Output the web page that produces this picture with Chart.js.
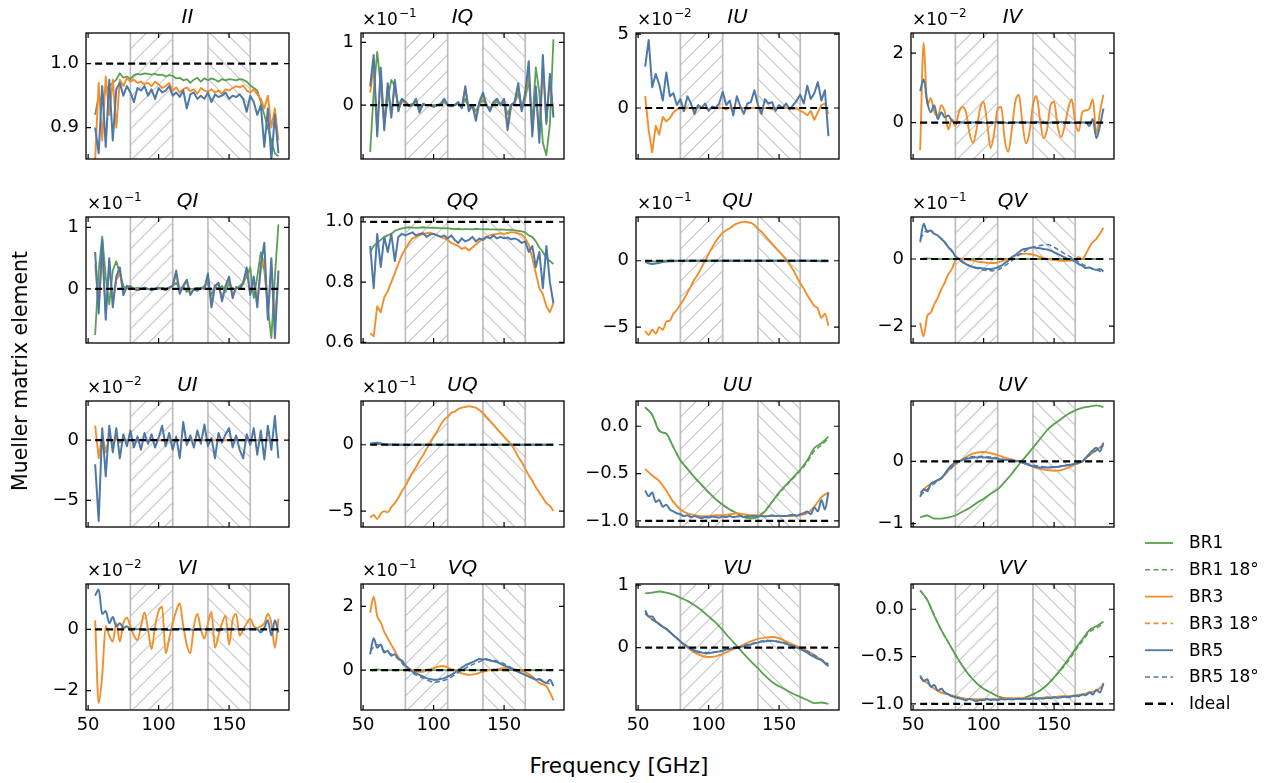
<!DOCTYPE html>
<html><head><meta charset="utf-8">
<script src="https://cdn.jsdelivr.net/npm/chart.js@4.4.0/dist/chart.umd.min.js"></script>
<style>
html,body{margin:0;padding:0;background:#fff;}
#fig{position:relative;width:1288px;height:783px;overflow:hidden;font-family:'DejaVu Sans',sans-serif;background:#fff;}
#fig canvas{position:absolute;}
.lab{position:absolute;color:#000;white-space:nowrap;font-family:'DejaVu Sans',sans-serif;}
</style></head><body><div id="fig"></div>
<script>
// ---------------- DATA ----------------
const freqFine = [55,57.5,60,62.5,65,67.5,70,72.5,75,77.5,
  80,82.5,85,87.5,90,92.5,95,97.5,100,102.5,
  105,107.5,110,112.5,115,117.5,120,122.5,125,127.5,
  130,132.5,135,137.5,140,142.5,145,147.5,150,152.5,
  155,157.5,160,162.5,165,167.5,170,172.5,175,177.5,
  180,182.5,185];
const freqCoarse = [55,60,65,70,75,80,85,90,95,100,105,110,115,120,125,130,135,140,145,150,155,160,165,170,175,180,185];
const freqIdeal = [55,185];
const hatchBands = [[80,110],[135,165]];
const xTickValues = [50,100,150];

const panelNames = ['II','IQ','IU','IV','QI','QQ','QU','QV','UI','UQ','UU','UV','VI','VQ','VU','VV'];
const yMin = [0.851,-0.86,-3.45,-1.05,-0.88,0.598,-6.2,-2.5,-7.2,-6.2,-1.065,-1.055,-2.63,-1.25,-1.0,-1.065];
const yMax = [1.048,1.15,5.07,2.58,1.17,1.016,3.3,1.25,3.25,3.3,0.267,0.97,1.48,2.7,1.02,0.267];
const yTickValues = [[0.9,1.0],[0,1],[0,5],[0,2],[0,1],[0.6,0.8,1.0],[-5,0],[-2,0],[-5,0],[-5,0],[-1,-0.5,0],[-1,0],[-2,0],[0,2],[0,1],[-1,-0.5,0]];
const yTickLabels = [['0.9','1.0'],['0','1'],['0','5'],['0','2'],['0','1'],['0.6','0.8','1.0'],['\u22125','0'],['\u22122','0'],['\u22125','0'],['\u22125','0'],['\u22121.0','\u22120.5','0.0'],['\u22121','0'],['\u22122','0'],['0','2'],['0','1'],['\u22121.0','\u22120.5','0.0']];
const yExponent = [null,-1,-2,-2,-1,null,-1,-1,-2,-1,null,null,-2,-1,null,null];
const idealValues = [1,0,0,0,0,1,0,0,0,0,-1,0,0,0,0,-1];

// II
const II_BR1 = [0.92,0.95,0.94,0.96,0.965,0.97,0.975,0.985,0.978,0.98,
  0.976,0.982,0.984,0.983,0.985,0.984,0.983,0.984,0.982,0.983,
  0.98,0.982,0.981,0.977,0.978,0.974,0.976,0.97,0.975,0.978,
  0.972,0.977,0.974,0.977,0.975,0.972,0.976,0.974,0.976,0.975,
  0.974,0.976,0.975,0.972,0.966,0.962,0.958,0.94,0.92,0.9,
  0.88,0.86,0.855];
const II_BR3 = [0.85,0.97,0.88,0.98,0.92,0.975,0.9,0.975,0.965,0.978,
  0.972,0.975,0.97,0.972,0.968,0.97,0.965,0.972,0.968,0.962,
  0.965,0.97,0.958,0.963,0.955,0.96,0.963,0.957,0.96,0.953,
  0.962,0.958,0.956,0.96,0.955,0.958,0.953,0.96,0.958,0.962,
  0.965,0.963,0.966,0.958,0.955,0.96,0.952,0.945,0.93,0.95,
  0.9,0.93,0.88];
const II_BR5 = [0.9,0.86,0.965,0.87,0.975,0.88,0.96,0.97,0.95,0.965,
  0.955,0.94,0.962,0.958,0.965,0.95,0.96,0.945,0.962,0.955,
  0.958,0.965,0.95,0.955,0.948,0.958,0.93,0.952,0.955,0.945,
  0.95,0.945,0.955,0.94,0.952,0.948,0.95,0.955,0.945,0.95,
  0.948,0.952,0.945,0.925,0.95,0.94,0.92,0.935,0.87,0.93,
  0.85,0.92,0.86];
// IQ (x10^-1)
const IQ_BR1 = [-0.75,0.2,0.85,0.3,-0.3,0.1,0.4,0.3,0.0,0.1,
  0.05,0.0,0.02,0.05,-0.05,0.0,0.0,0.0,0.0,0.0,
  0.0,0.05,0.0,0.0,0.0,0.02,-0.02,0.1,-0.05,0.0,
  -0.1,0.02,0.08,0.0,-0.05,0.02,0.05,0.0,0.05,-0.15,
  0.0,0.02,0.2,-0.05,0.1,0.4,-0.3,0.6,0.2,-0.6,
  -0.8,-0.3,1.05];
const IQ_BR3 = [0.2,0.6,-0.4,0.5,-0.3,0.3,-0.15,0.3,-0.05,0.05,
  0.03,-0.02,0.0,0.08,-0.1,0.02,0.0,0.0,-0.02,0.0,
  0.02,0.08,0.0,-0.02,0.0,0.04,-0.04,0.25,-0.08,0.0,
  -0.2,0.04,0.15,0.0,-0.08,0.04,0.08,0.0,0.08,-0.3,
  0.0,0.04,0.3,-0.08,0.15,0.5,-0.4,0.25,-0.5,0.6,
  -0.25,0.4,-0.15];
const IQ_BR5 = [0.3,0.8,-0.5,0.6,-0.4,0.35,-0.2,0.4,-0.1,0.1,
  0.05,-0.02,0.0,0.1,-0.12,0.02,0.0,0.0,-0.03,0.0,
  0.02,0.1,0.0,-0.02,0.0,0.05,-0.05,0.3,-0.1,0.0,
  -0.25,0.05,0.2,0.0,-0.1,0.05,0.1,0.0,0.1,-0.4,
  0.0,0.05,0.35,-0.1,0.2,0.7,-0.5,0.3,-0.6,0.8,
  -0.3,0.5,-0.2];
// IU (x10^-2)
const IU_BR3 = [0.8,-1.5,-3.0,-1.2,-1.8,-0.6,-0.9,-0.7,-0.3,-0.1,
  0.0,-0.1,0.0,0.0,-0.1,0.0,0.0,0.0,-0.1,0.0,
  0.0,0.0,0.0,-0.1,0.0,0.0,0.0,0.0,0.0,-0.1,
  0.0,0.0,0.0,-0.1,0.0,0.0,-0.1,0.0,0.0,0.0,
  0.0,0.0,-0.1,0.0,-0.2,-0.3,-0.5,-0.2,-0.8,-0.3,
  0.2,0.3,-0.4];
const IU_BR5 = [2.8,4.6,1.4,2.3,1.6,0.5,2.4,0.8,1.0,0.2,
  0.6,-0.2,0.8,0.3,-0.4,0.2,0.0,0.3,-0.2,0.1,
  0.0,0.3,1.1,0.2,0.5,-0.5,0.8,0.1,-0.4,0.3,
  0.4,1.2,0.2,-0.4,0.6,0.3,0.4,-0.2,0.2,0.0,
  0.3,-0.1,0.2,0.5,0.9,0.3,1.5,0.6,1.0,1.75,
  0.5,1.2,-1.9];
// IV (x10^-2)
const IV_BR3 = [-0.8,2.3,0.5,0.7,0.3,0.2,0.5,0.3,-0.2,0.1,
  -0.1,0.3,0.45,0.3,-0.3,-0.59,-0.2,0.4,0.6,0.0,
  -0.74,-0.3,0.4,0.45,-0.5,-0.84,-0.2,0.6,0.8,0.0,
  -0.6,-0.3,0.5,0.77,0.1,-0.45,-0.2,0.5,0.6,-0.1,
  -0.42,-0.1,0.4,0.67,0.0,-0.25,0.3,0.35,0.4,0.67,
  -0.33,0.3,0.8];
const IV_BR5 = [0.9,1.25,0.6,0.3,0.5,0.1,0.3,0.15,0.2,0.05,
  0.0,0.02,0.0,-0.02,0.0,0.0,0.02,0.0,0.0,-0.02,
  0.0,0.0,0.02,0.0,0.0,-0.02,0.0,0.0,0.0,0.02,
  0.0,0.0,0.0,0.02,0.0,0.0,-0.02,0.0,0.0,0.0,
  0.02,0.0,0.0,0.0,-0.02,0.0,0.0,0.0,-0.1,0.1,
  -0.45,-0.1,0.4];
// QI (x10^-1)
const QI_BR1 = [-0.75,0.3,0.85,0.2,-0.25,0.3,0.45,0.25,0.05,0.0,
  0.05,0.0,0.02,0.0,0.0,0.0,0.0,0.0,0.0,0.02,
  0.0,0.02,0.05,0.1,0.0,0.05,-0.05,0.0,0.0,0.02,
  0.0,0.05,0.1,-0.1,0.05,0.0,0.05,-0.05,0.1,0.0,
  0.0,0.05,0.1,0.2,0.35,-0.15,0.2,0.6,0.3,-0.3,
  -0.8,0.2,1.05];
const QI_BR3 = [0.4,-0.3,0.6,-0.4,0.4,-0.2,0.15,0.25,-0.05,0.03,
  0.02,0.0,-0.02,0.0,0.02,0.0,-0.02,0.0,0.02,0.0,
  -0.02,0.02,0.04,0.25,-0.06,0.04,0.12,-0.08,0.0,-0.02,
  0.02,0.0,0.2,-0.25,0.04,0.08,-0.15,0.04,0.15,-0.1,
  0.02,0.0,0.08,0.3,-0.08,0.15,-0.2,0.3,0.5,-0.4,
  0.35,-0.5,0.2];
const QI_BR5 = [0.6,-0.4,0.8,-0.5,0.5,-0.3,0.2,0.35,-0.1,0.05,
  0.03,0.0,-0.02,0.0,0.02,0.0,-0.02,0.0,0.02,0.0,
  -0.02,0.02,0.05,0.3,-0.08,0.05,0.15,-0.1,0.0,-0.03,
  0.02,0.0,0.25,-0.3,0.05,0.1,-0.2,0.05,0.2,-0.15,
  0.03,0.0,0.1,0.35,-0.1,0.2,-0.3,0.4,0.75,-0.5,
  0.5,-0.8,0.3];
// QQ
const QQ_BR1 = [0.9,0.92,0.93,0.94,0.95,0.955,0.96,0.97,0.975,0.978,
  0.98,0.982,0.981,0.98,0.981,0.982,0.981,0.98,0.981,0.98,
  0.979,0.978,0.979,0.977,0.976,0.977,0.975,0.976,0.976,0.975,
  0.977,0.976,0.975,0.976,0.975,0.975,0.974,0.975,0.974,0.973,
  0.974,0.972,0.97,0.968,0.965,0.955,0.95,0.935,0.915,0.9,
  0.88,0.87,0.86];
const QQ_BR3 = [0.63,0.62,0.72,0.7,0.75,0.77,0.8,0.83,0.86,0.89,
  0.91,0.93,0.945,0.95,0.955,0.96,0.962,0.964,0.96,0.955,
  0.95,0.945,0.94,0.93,0.925,0.92,0.91,0.915,0.905,0.915,
  0.925,0.935,0.945,0.95,0.955,0.958,0.96,0.962,0.96,0.963,
  0.966,0.964,0.962,0.958,0.945,0.925,0.88,0.83,0.78,0.76,
  0.72,0.7,0.73];
const QQ_BR5 = [0.92,0.78,0.96,0.85,0.95,0.9,0.96,0.87,0.95,0.96,
  0.955,0.96,0.965,0.955,0.96,0.962,0.95,0.958,0.96,0.955,
  0.95,0.955,0.945,0.955,0.94,0.93,0.945,0.935,0.94,0.95,
  0.935,0.945,0.94,0.95,0.945,0.955,0.945,0.95,0.945,0.948,
  0.942,0.945,0.94,0.93,0.935,0.9,0.92,0.85,0.9,0.78,
  0.92,0.8,0.73];
// QU (x10^-1)
const QU_BR1 = [0.0,-0.05,-0.03,0.0,0.0,0.0,0.0,0.0,0.0,0.0,
  0.0,0.0,0.0,0.0,0.0,0.0,0.0,0.0,0.0,0.0,
  0.0,0.0,0.0,0.0,0.0,0.0,0.0];
const QU_BR3 = [-5.3,-5.6,-5.2,-5.5,-5.0,-5.2,-4.6,-4.5,-4.0,-3.7,
  -3.3,-2.9,-2.4,-1.9,-1.4,-1.0,-0.5,0.0,0.5,1.0,
  1.45,1.8,2.1,2.3,2.45,2.65,2.8,2.88,2.95,2.9,
  2.85,2.7,2.4,2.2,1.9,1.6,1.3,1.0,0.7,0.4,
  0.1,-0.3,-0.7,-1.2,-1.7,-2.1,-2.6,-3.0,-3.4,-3.6,
  -4.3,-4.0,-4.9];
const QU_BR5 = [-0.1,-0.25,-0.15,-0.05,-0.03,-0.02,0.0,0.0,0.0,0.0,
  0.0,0.0,0.0,0.0,0.0,0.0,0.0,0.0,0.0,0.0,
  0.0,0.0,0.0,0.0,-0.02,-0.03,-0.03];
// QV (x10^-1)
const QV_BR1 = [0.0,0.02,0.0,0.0,0.0,0.0,0.0,0.0,0.0,0.0,
  0.0,0.0,0.0,0.0,0.0,0.0,0.0,0.0,0.0,0.0,
  0.0,0.0,0.0,0.0,0.0,0.0,0.0];
const QV_BR3 = [-1.9,-2.3,-1.7,-1.6,-1.35,-1.15,-0.9,-0.7,-0.45,-0.3,
  -0.05,0.02,0.0,-0.02,-0.03,-0.05,-0.07,-0.09,-0.1,-0.11,
  -0.12,-0.12,-0.1,-0.07,-0.03,0.0,0.05,0.1,0.13,0.15,
  0.16,0.15,0.13,0.1,0.06,0.03,0.0,-0.02,-0.03,-0.04,
  -0.05,-0.05,-0.05,-0.03,0.0,0.05,0.0,0.15,0.35,0.5,
  0.6,0.75,0.93];
const QV_BR5 = [0.5,1.05,0.8,0.85,0.75,0.7,0.6,0.5,0.35,0.25,
  0.08,0.0,-0.08,-0.15,-0.2,-0.24,-0.26,-0.27,-0.28,-0.3,
  -0.3,-0.28,-0.25,-0.2,-0.12,-0.05,0.05,0.12,0.2,0.28,
  0.3,0.33,0.35,0.33,0.32,0.3,0.28,0.25,0.2,0.15,
  0.1,0.05,0.0,-0.03,-0.08,-0.15,-0.2,-0.27,-0.25,-0.3,
  -0.32,-0.3,-0.37];
const QV_BR5_18 = [0.6,0.85,0.75,0.6,0.35,0.1,-0.1,-0.2,-0.28,-0.33,
  -0.35,-0.32,-0.2,-0.05,0.12,0.25,0.35,0.4,0.43,0.35,
  0.22,0.1,-0.02,-0.15,-0.25,-0.32,-0.4];
// UI (x10^-2)
const UI_BR3 = [1.2,-1.5,0.5,-1.0,0.3,-0.3,0.2,-0.2,0.1,0.0,
  0.0,0.0,0.0,0.0,0.0,0.0,0.0,0.0,0.0,0.0,
  0.0,0.0,0.0,0.0,0.0,0.0,0.0,0.0,0.0,0.0,
  0.0,0.0,0.0,0.0,0.0,0.0,0.0,0.0,0.0,0.0,
  0.0,0.0,0.0,0.0,0.0,0.0,0.0,0.0,0.0,0.0,
  0.0,0.0,0.0];
const UI_BR5 = [-2.0,-6.7,1.0,-3.0,1.2,-1.0,1.0,-1.5,0.5,-0.5,
  0.8,-0.6,0.3,-0.8,0.6,-0.3,0.5,-0.6,0.2,1.2,
  -0.5,0.6,-0.8,0.3,-1.5,1.5,-0.4,0.4,-0.6,0.8,
  -0.3,1.3,-0.5,0.2,-1.5,0.6,-0.2,0.5,1.0,-0.6,
  0.4,-0.8,-1.5,0.5,-0.4,1.0,-1.2,0.8,-1.6,1.2,
  -0.8,2.0,-1.5];
// UQ (x10^-1)
const UQ_BR1 = [0.05,0.05,0.02,0.0,0.0,0.0,0.0,0.0,0.0,0.0,
  0.0,0.0,0.0,0.0,0.0,0.0,0.0,0.0,0.0,0.0,
  0.0,0.0,0.0,0.0,0.0,0.0,0.0];
const UQ_BR3 = [-5.5,-5.3,-5.6,-5.2,-5.0,-5.1,-4.7,-4.4,-4.0,-3.5,
  -3.1,-2.6,-2.1,-1.7,-1.2,-0.8,-0.3,0.1,0.6,1.0,
  1.5,1.9,2.1,2.4,2.5,2.7,2.8,2.85,2.9,2.85,
  2.8,2.6,2.4,2.1,1.8,1.5,1.2,0.9,0.6,0.3,
  0.0,-0.4,-0.9,-1.3,-1.8,-2.3,-2.7,-3.2,-3.6,-4.0,
  -4.4,-4.6,-5.0];
const UQ_BR5 = [0.1,0.15,0.05,0.02,0.0,0.0,0.0,0.0,0.0,0.0,
  0.0,0.0,0.0,0.0,0.0,0.0,0.0,0.0,0.0,0.0,
  0.0,0.0,0.0,0.0,0.0,0.0,0.0];
// UU
const UU_BR1 = [0.2,0.12,-0.05,-0.08,-0.22,-0.36,-0.45,-0.54,-0.62,-0.7,
  -0.77,-0.83,-0.88,-0.92,-0.96,-0.975,-0.96,-0.9,-0.8,-0.7,
  -0.62,-0.54,-0.46,-0.36,-0.23,-0.18,-0.11];
const UU_BR1_18 = [0.2,0.12,-0.04,-0.08,-0.22,-0.36,-0.45,-0.54,-0.62,-0.7,
  -0.77,-0.83,-0.88,-0.92,-0.96,-0.97,-0.95,-0.89,-0.8,-0.71,
  -0.63,-0.55,-0.47,-0.38,-0.26,-0.2,-0.13];
const UU_BR3 = [-0.45,-0.52,-0.58,-0.68,-0.8,-0.88,-0.92,-0.94,-0.95,-0.95,
  -0.94,-0.94,-0.93,-0.92,-0.93,-0.94,-0.94,-0.95,-0.95,-0.95,
  -0.95,-0.95,-0.94,-0.92,-0.85,-0.75,-0.7];
const UU_BR5 = [-0.68,-0.74,-0.7,-0.8,-0.78,-0.85,-0.83,-0.88,-0.9,-0.92,
  -0.93,-0.95,-0.94,-0.96,-0.95,-0.96,-0.97,-0.96,-0.965,-0.955,
  -0.96,-0.965,-0.955,-0.96,-0.95,-0.96,-0.955,-0.95,-0.96,-0.95,
  -0.955,-0.945,-0.955,-0.95,-0.955,-0.95,-0.94,-0.95,-0.945,-0.95,
  -0.95,-0.94,-0.935,-0.945,-0.93,-0.92,-0.9,-0.93,-0.86,-0.9,
  -0.78,-0.88,-0.7];
// UV
const UV_BR1 = [-0.9,-0.87,-0.92,-0.92,-0.9,-0.87,-0.81,-0.75,-0.67,-0.6,
  -0.52,-0.45,-0.33,-0.2,-0.05,0.08,0.22,0.36,0.5,0.6,
  0.68,0.76,0.82,0.86,0.88,0.9,0.87];
const UV_BR3 = [-0.5,-0.4,-0.33,-0.27,-0.15,-0.05,0.03,0.1,0.14,0.15,
  0.13,0.1,0.06,0.03,0.0,-0.04,-0.09,-0.12,-0.14,-0.15,
  -0.14,-0.1,-0.05,0.0,0.1,0.18,0.27];
const UV_BR5 = [-0.57,-0.45,-0.48,-0.36,-0.33,-0.3,-0.27,-0.2,-0.12,-0.06,
  -0.02,0.0,0.02,0.04,0.05,0.06,0.06,0.07,0.06,0.06,
  0.05,0.05,0.04,0.03,0.02,0.02,0.01,0.0,0.0,-0.02,
  -0.04,-0.06,-0.08,-0.09,-0.1,-0.1,-0.1,-0.1,-0.09,-0.09,
  -0.08,-0.07,-0.06,-0.05,-0.04,-0.02,0.0,0.06,0.12,0.18,
  0.22,0.16,0.3];
const UV_BR5_18 = [-0.55,-0.45,-0.36,-0.27,-0.15,-0.04,0.03,0.07,0.08,0.08,
  0.07,0.05,0.03,0.02,0.0,-0.03,-0.06,-0.08,-0.09,-0.09,
  -0.08,-0.06,-0.03,0.0,0.1,0.18,0.25];
// VI (x10^-2)
const VI_BR3 = [0.3,-2.4,-1.5,0.1,-0.2,-0.4,0.2,-0.4,0.2,0.38,
  0.1,-0.2,-0.35,0.1,0.55,0.0,-0.65,0.1,0.6,0.74,
  -0.78,-0.3,0.2,0.6,0.85,0.1,-0.5,-0.78,0.1,0.5,
  0.0,-0.3,0.2,0.57,-0.6,-0.2,0.2,0.45,-0.5,0.3,
  0.5,-0.2,0.0,0.2,0.35,0.1,0.05,0.1,0.2,0.5,
  0.2,-0.6,0.35];
const VI_BR5 = [1.1,1.3,0.5,0.6,0.2,0.4,0.1,0.2,0.05,0.1,
  0.0,0.02,0.0,0.0,-0.02,0.0,0.0,0.02,0.0,0.0,
  0.0,-0.02,0.0,0.0,0.02,0.0,0.0,0.0,-0.02,0.0,
  0.0,0.0,0.02,0.0,0.0,-0.05,0.0,0.0,0.02,0.0,
  0.0,0.0,0.0,0.0,0.02,0.0,0.0,-0.1,0.05,0.3,
  -0.2,0.3,-0.1];
// VQ (x10^-1)
const VQ_BR1 = [0.0,0.02,0.0,0.0,0.0,0.0,0.0,0.0,0.0,0.0,
  0.0,0.0,0.0,0.0,0.0,0.0,0.0,0.0,0.0,0.0,
  0.0,0.0,0.0,0.0,0.0,0.0,0.0];
const VQ_BR3 = [1.8,2.3,1.7,1.5,1.2,1.0,0.8,0.6,0.4,0.25,
  0.12,0.05,0.0,-0.05,-0.05,-0.05,0.0,0.03,0.06,0.1,
  0.12,0.12,0.08,0.03,0.0,-0.05,-0.1,-0.13,-0.15,-0.14,
  -0.12,-0.08,-0.05,-0.02,0.0,0.02,0.03,0.05,0.06,0.06,
  0.05,0.03,0.0,-0.03,-0.06,-0.12,-0.2,-0.3,-0.4,-0.45,
  -0.5,-0.7,-0.95];
const VQ_BR5 = [0.5,1.0,0.7,0.8,0.55,0.6,0.45,0.5,0.35,0.3,
  0.15,0.05,-0.05,-0.1,-0.15,-0.2,-0.25,-0.28,-0.3,-0.3,
  -0.28,-0.25,-0.2,-0.15,-0.08,0.0,0.08,0.15,0.2,0.25,
  0.3,0.35,0.33,0.35,0.3,0.28,0.25,0.2,0.15,0.1,
  0.05,0.0,-0.05,-0.1,-0.15,-0.2,-0.25,-0.3,-0.28,-0.35,
  -0.4,-0.3,-0.5];
const VQ_BR5_18 = [0.6,0.8,0.6,0.5,0.35,0.1,-0.1,-0.2,-0.3,-0.38,
  -0.35,-0.28,-0.15,0.0,0.12,0.22,0.3,0.32,0.28,0.2,
  0.08,-0.05,-0.15,-0.25,-0.3,-0.4,-0.45];
// VU
const VU_BR1 = [0.87,0.88,0.9,0.88,0.85,0.8,0.75,0.68,0.6,0.5,
  0.4,0.28,0.15,0.03,-0.1,-0.22,-0.33,-0.45,-0.55,-0.62,
  -0.68,-0.74,-0.79,-0.84,-0.89,-0.88,-0.9];
const VU_BR3 = [0.55,0.45,0.38,0.3,0.2,0.1,0.0,-0.08,-0.13,-0.15,
  -0.14,-0.1,-0.05,0.0,0.05,0.1,0.14,0.16,0.17,0.15,
  0.1,0.05,0.0,-0.05,-0.12,-0.2,-0.28];
const VU_BR5 = [0.6,0.5,0.5,0.42,0.38,0.33,0.3,0.25,0.2,0.15,
  0.1,0.05,0.02,-0.02,-0.05,-0.07,-0.08,-0.09,-0.09,-0.08,
  -0.07,-0.06,-0.05,-0.03,-0.02,-0.01,0.0,0.01,0.02,0.04,
  0.05,0.07,0.08,0.1,0.1,0.11,0.11,0.1,0.09,0.08,
  0.06,0.04,0.02,0.0,-0.02,-0.05,-0.08,-0.12,-0.15,-0.18,
  -0.2,-0.25,-0.3];
const VU_BR5_18 = [0.55,0.45,0.37,0.3,0.2,0.1,0.02,-0.04,-0.07,-0.08,
  -0.07,-0.05,-0.02,0.0,0.03,0.06,0.09,0.11,0.11,0.1,
  0.07,0.03,-0.01,-0.06,-0.12,-0.19,-0.26];
// VV
const VV_BR1 = [0.2,0.1,-0.07,-0.22,-0.35,-0.48,-0.6,-0.7,-0.78,-0.84,
  -0.88,-0.92,-0.94,-0.95,-0.95,-0.93,-0.9,-0.86,-0.8,-0.72,
  -0.63,-0.53,-0.42,-0.32,-0.22,-0.18,-0.13];
const VV_BR1_18 = [0.2,0.1,-0.06,-0.22,-0.35,-0.48,-0.6,-0.7,-0.78,-0.84,
  -0.88,-0.92,-0.94,-0.95,-0.95,-0.93,-0.9,-0.86,-0.8,-0.72,
  -0.64,-0.55,-0.44,-0.34,-0.24,-0.2,-0.15];
const VV_BR3 = [-0.72,-0.78,-0.84,-0.88,-0.9,-0.92,-0.94,-0.95,-0.95,-0.95,
  -0.95,-0.95,-0.94,-0.94,-0.94,-0.94,-0.94,-0.94,-0.93,-0.93,
  -0.92,-0.92,-0.91,-0.9,-0.88,-0.86,-0.8];
const VV_BR5 = [-0.7,-0.76,-0.74,-0.82,-0.8,-0.86,-0.84,-0.88,-0.9,-0.92,
  -0.93,-0.94,-0.95,-0.96,-0.95,-0.96,-0.97,-0.96,-0.96,-0.95,
  -0.96,-0.955,-0.96,-0.95,-0.955,-0.95,-0.955,-0.95,-0.945,-0.95,
  -0.945,-0.95,-0.94,-0.945,-0.94,-0.945,-0.935,-0.94,-0.93,-0.935,
  -0.93,-0.925,-0.93,-0.92,-0.915,-0.92,-0.9,-0.91,-0.88,-0.9,
  -0.85,-0.88,-0.78];

const legendKeys = ['BR1','BR1_18','BR3','BR3_18','BR5','BR5_18','Ideal'];
const legendLabels = ['BR1','BR1 18\u00b0','BR3','BR3 18\u00b0','BR5','BR5 18\u00b0','Ideal'];

const series = {
  II: [['BR1',freqFine,II_BR1],['BR3',freqFine,II_BR3],['BR5',freqFine,II_BR5]],
  IQ: [['BR1',freqFine,IQ_BR1],['BR3',freqFine,IQ_BR3],['BR5',freqFine,IQ_BR5]],
  IU: [['BR3',freqFine,IU_BR3],['BR5',freqFine,IU_BR5]],
  IV: [['BR3',freqFine,IV_BR3],['BR5',freqFine,IV_BR5]],
  QI: [['BR1',freqFine,QI_BR1],['BR3',freqFine,QI_BR3],['BR5',freqFine,QI_BR5]],
  QQ: [['BR1',freqFine,QQ_BR1],['BR3',freqFine,QQ_BR3],['BR5',freqFine,QQ_BR5]],
  QU: [['BR1',freqCoarse,QU_BR1],['BR3',freqFine,QU_BR3],['BR5',freqCoarse,QU_BR5]],
  QV: [['BR1',freqCoarse,QV_BR1],['BR3',freqFine,QV_BR3],['BR5',freqFine,QV_BR5],['BR5_18',freqCoarse,QV_BR5_18]],
  UI: [['BR3',freqFine,UI_BR3],['BR5',freqFine,UI_BR5]],
  UQ: [['BR1',freqCoarse,UQ_BR1],['BR3',freqFine,UQ_BR3],['BR5',freqCoarse,UQ_BR5]],
  UU: [['BR1',freqCoarse,UU_BR1],['BR1_18',freqCoarse,UU_BR1_18],['BR3',freqCoarse,UU_BR3],['BR5',freqFine,UU_BR5]],
  UV: [['BR1',freqCoarse,UV_BR1],['BR3',freqCoarse,UV_BR3],['BR5',freqFine,UV_BR5],['BR5_18',freqCoarse,UV_BR5_18]],
  VI: [['BR3',freqFine,VI_BR3],['BR5',freqFine,VI_BR5]],
  VQ: [['BR1',freqCoarse,VQ_BR1],['BR3',freqFine,VQ_BR3],['BR5',freqFine,VQ_BR5],['BR5_18',freqCoarse,VQ_BR5_18]],
  VU: [['BR1',freqCoarse,VU_BR1],['BR3',freqCoarse,VU_BR3],['BR5',freqFine,VU_BR5],['BR5_18',freqCoarse,VU_BR5_18]],
  VV: [['BR1',freqCoarse,VV_BR1],['BR1_18',freqCoarse,VV_BR1_18],['BR3',freqCoarse,VV_BR3],['BR5',freqFine,VV_BR5]]
};
const smoothPanels = ['IV','VI','QU','UQ','UU','UV','VU','VV','QV','VQ'];

// ---------------- STYLE / LAYOUT ----------------
const FONT = "'DejaVu Sans'";
const GREEN = '#59a14f', ORANGE = '#f28e2b', BLUE = '#4e79a7';
const STYLE = {
  BR1:{color:GREEN, dash:[], order:6, w:1.8},
  BR1_18:{color:GREEN, dash:[5,3], order:5, w:1.5},
  BR3:{color:ORANGE, dash:[], order:4, w:1.9},
  BR3_18:{color:ORANGE, dash:[5,3], order:3, w:1.5},
  BR5:{color:BLUE, dash:[], order:2, w:2.0},
  BR5_18:{color:BLUE, dash:[5,3], order:1, w:1.5},
  Ideal:{color:'#000', dash:[7,4], order:0, w:2.2}
};
const COL_LEFT = [86,361,636,911];
const ROW_TOP = [33,217,401,584];
const AX_W = 203, AX_H = 126;
const PAD_L = 72, PAD_T = 44, PAD_R = 14, PAD_B = 32;

Chart.defaults.font.family = FONT;
Chart.defaults.color = '#000';

function drawHatch(ctx, a, x0, x1, dir){
  const h = a.bottom - a.top, sp = 16;
  ctx.save();
  ctx.beginPath(); ctx.rect(x0, a.top, x1 - x0, h); ctx.clip();
  ctx.strokeStyle = '#c6c6c6'; ctx.lineWidth = 1.1;
  ctx.beginPath();
  for (let s = x0 - h - sp; s < x1 + sp; s += sp){
    if (dir > 0){ ctx.moveTo(s, a.bottom); ctx.lineTo(s + h, a.top); }
    else { ctx.moveTo(s, a.top); ctx.lineTo(s + h, a.bottom); }
  }
  ctx.stroke();
  ctx.restore();
  ctx.save();
  ctx.strokeStyle = '#bdbdbd'; ctx.lineWidth = 1.7;
  ctx.beginPath();
  ctx.moveTo(x0, a.top); ctx.lineTo(x0, a.bottom);
  ctx.moveTo(x1, a.top); ctx.lineTo(x1, a.bottom);
  ctx.stroke();
  ctx.restore();
}

const decor = {
  id:'decor',
  beforeDatasetsDraw(chart){
    const a = chart.chartArea, xs = chart.scales.x, ctx = chart.ctx;
    hatchBands.forEach((b,i)=>drawHatch(ctx, a, xs.getPixelForValue(b[0]), xs.getPixelForValue(b[1]), i === 0 ? 1 : -1));
  },
  afterDraw(chart){
    const o = chart.options.plugins.decor;
    const a = chart.chartArea, xs = chart.scales.x, ys = chart.scales.y, ctx = chart.ctx;
    ctx.save();
    ctx.strokeStyle = '#000'; ctx.lineWidth = 1.3;
    ctx.strokeRect(a.left, a.top, a.right - a.left, a.bottom - a.top);
    ctx.lineWidth = 1.2;
    ctx.beginPath();
    xTickValues.forEach(v=>{
      const p = xs.getPixelForValue(v);
      if (p < a.left - 0.5 || p > a.right + 0.5) return;
      ctx.moveTo(p, a.bottom); ctx.lineTo(p, a.bottom - 5);
      ctx.moveTo(p, a.top); ctx.lineTo(p, a.top + 5);
    });
    o.yTicks.forEach(v=>{
      const p = ys.getPixelForValue(v);
      ctx.moveTo(a.left, p); ctx.lineTo(a.left + 5, p);
      ctx.moveTo(a.right, p); ctx.lineTo(a.right - 5, p);
    });
    ctx.stroke();
    // title
    ctx.fillStyle = '#000';
    ctx.font = 'italic 20px ' + FONT;
    ctx.textAlign = 'center'; ctx.textBaseline = 'alphabetic';
    ctx.fillText(o.title, (a.left + a.right) / 2, a.top - 10);
    // offset text
    if (o.exp !== null){
      ctx.textAlign = 'left';
      ctx.font = '17px ' + FONT;
      const base = '\u00d710';
      ctx.fillText(base, a.left + 1, a.top - 8);
      const w = ctx.measureText(base).width;
      ctx.font = '12px ' + FONT;
      ctx.fillText('\u2212' + Math.abs(o.exp), a.left + 1 + w + 1, a.top - 16);
    }
    ctx.restore();
  }
};

const fig = document.getElementById('fig');
panelNames.forEach((name, k)=>{
  const r = Math.floor(k / 4), c = k % 4;
  const W = PAD_L + AX_W + PAD_R, H = PAD_T + AX_H + PAD_B;
  const cv = document.createElement('canvas');
  cv.width = W; cv.height = H;
  cv.style.left = (COL_LEFT[c] - PAD_L) + 'px';
  cv.style.top = (ROW_TOP[r] - PAD_T) + 'px';
  cv.style.width = W + 'px'; cv.style.height = H + 'px';
  fig.appendChild(cv);

  const smooth = smoothPanels.includes(name);
  const datasets = [];
  datasets.push({label:'Ideal', data:freqIdeal.map(x=>({x, y:idealValues[k]})),
    borderColor:STYLE.Ideal.color, borderWidth:STYLE.Ideal.w, borderDash:STYLE.Ideal.dash,
    pointRadius:0, fill:false, tension:0, order:STYLE.Ideal.order});
  series[name].forEach(([key, xs, ys])=>{
    if (xs.length !== ys.length) throw new Error(name + ' ' + key + ' length ' + ys.length + ' vs ' + xs.length);
    const st = STYLE[key];
    const ds = {label:key, data:xs.map((x,i)=>({x, y:ys[i]})),
      borderColor:st.color, borderWidth:st.w, borderDash:st.dash,
      pointRadius:0, fill:false, tension:0, order:st.order, borderJoinStyle:'round'};
    if (smooth){ ds.cubicInterpolationMode = 'monotone'; }
    datasets.push(ds);
  });

  const isBottom = r === 3;
  const yT = yTickValues[k], yL = yTickLabels[k];
  new Chart(cv, {
    type:'line',
    data:{datasets},
    options:{
      responsive:false, animation:false, devicePixelRatio:1,
      layout:{padding:{left:0, top:PAD_T, right:PAD_R, bottom:0}},
      plugins:{legend:{display:false}, tooltip:{enabled:false},
        decor:{title:name, exp:yExponent[k], yTicks:yT}},
      scales:{
        x:{type:'linear', min:48.5, max:192.5,
          afterFit(s){ s.height = PAD_B; },
          afterBuildTicks(s){ s.ticks = xTickValues.map(v=>({value:v})); },
          grid:{display:false, drawTicks:false}, border:{display:false},
          ticks:{display:isBottom, autoSkip:false, maxRotation:0, padding:5, color:'#000',
            font:{size:18, family:FONT}, callback:(v)=>String(v)}},
        y:{type:'linear', min:yMin[k], max:yMax[k],
          afterFit(s){ s.width = PAD_L; },
          afterBuildTicks(s){ s.ticks = yT.map(v=>({value:v})); },
          grid:{display:false, drawTicks:false}, border:{display:false},
          ticks:{autoSkip:false, padding:7, color:'#000', font:{size:18, family:FONT},
            callback:(v, i)=>yL[i]}}
      }
    },
    plugins:[decor]
  });
});

// axis labels
const yl = document.createElement('div');
yl.className = 'lab';
yl.textContent = 'Mueller matrix element';
yl.style.fontSize = '20.5px';
yl.style.left = '20px'; yl.style.top = '371px';
yl.style.transform = 'translate(-50%,-50%) rotate(-90deg)';
fig.appendChild(yl);
const xl = document.createElement('div');
xl.className = 'lab';
xl.textContent = 'Frequency [GHz]';
xl.style.fontSize = '21.5px';
xl.style.left = '619px'; xl.style.top = '765px';
xl.style.transform = 'translate(-50%,-50%)';
fig.appendChild(xl);

// legend
const lg = document.createElement('canvas');
lg.width = 150; lg.height = 200;
lg.style.left = '1135px'; lg.style.top = '525px';
fig.appendChild(lg);
const lctx = lg.getContext('2d');
legendKeys.forEach((key, i)=>{
  const st = STYLE[key];
  const y = 18 + i * 26.8;
  lctx.save();
  lctx.strokeStyle = st.color;
  if (key === 'Ideal'){ lctx.lineWidth = 2.5; lctx.setLineDash([8,5]); }
  else if (st.dash.length){ lctx.lineWidth = 1.6; lctx.setLineDash([5,3.5]); }
  else { lctx.lineWidth = 1.8; lctx.setLineDash([]); }
  lctx.beginPath(); lctx.moveTo(10, y); lctx.lineTo(38, y); lctx.stroke();
  lctx.restore();
  lctx.fillStyle = '#000';
  lctx.font = '17px ' + FONT;
  lctx.textBaseline = 'middle';
  lctx.fillText(legendLabels[i], 54, y + 1);
});
</script></body></html>
